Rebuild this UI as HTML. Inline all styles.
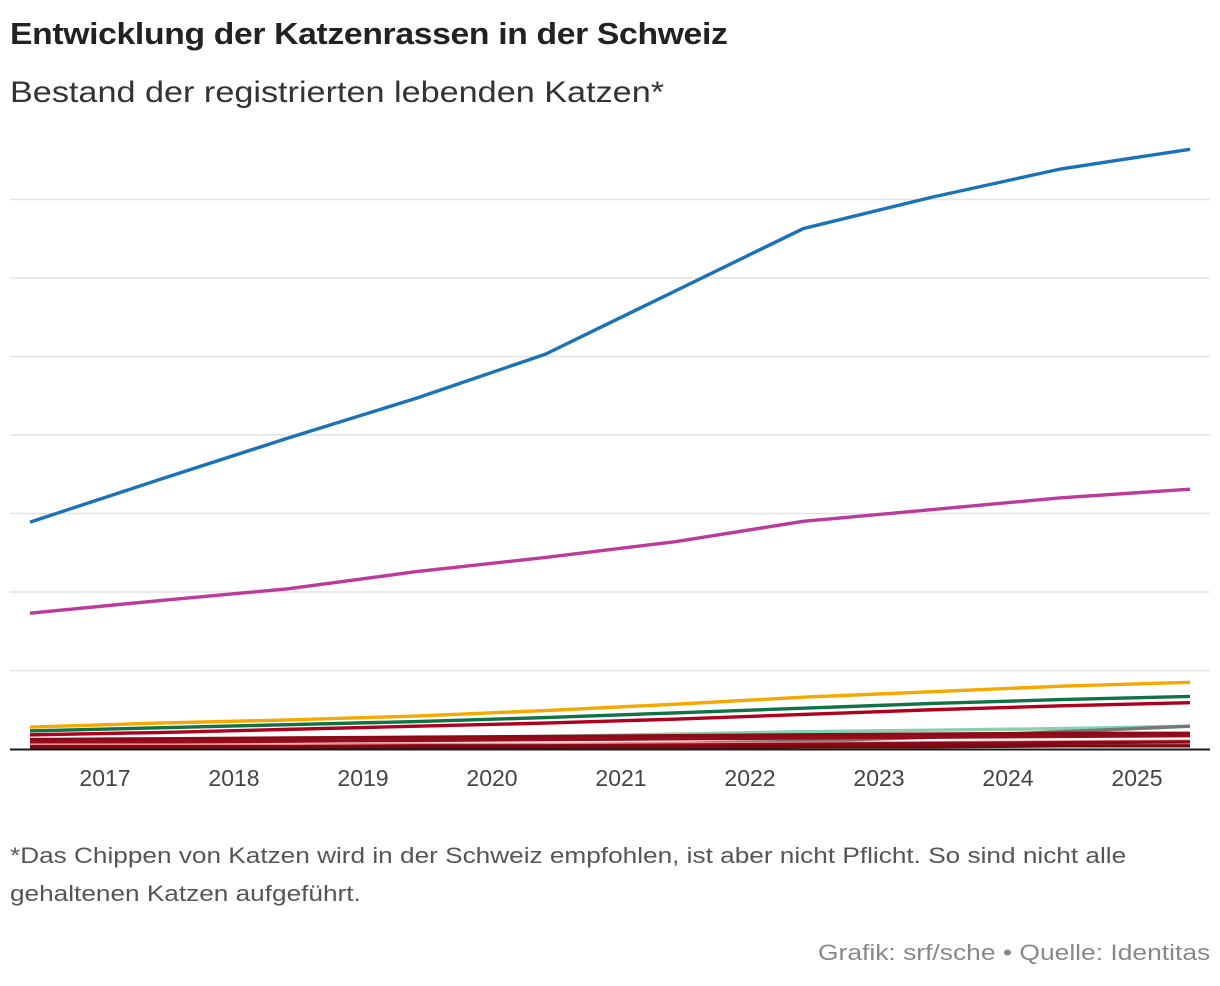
<!DOCTYPE html>
<html><head><meta charset="utf-8"><style>
body{margin:0;width:1220px;height:986px;background:#fff;font-family:"Liberation Sans",sans-serif;color:#222;position:relative;overflow:hidden}
.t{position:absolute;left:10px;white-space:nowrap;transform-origin:left top}
</style></head><body>
<div class="t" style="top:16px;font-size:31px;font-weight:bold;letter-spacing:-0.3px;transform:scaleX(1.086)">Entwicklung der Katzenrassen in der Schweiz</div>
<div class="t" style="top:76px;font-size:30px;color:#333;transform:scaleX(1.14)">Bestand der registrierten lebenden Katzen*</div>
<svg id="chart" width="1220" height="800" style="position:absolute;left:0;top:0"></svg>
<div class="t" style="top:837px;font-size:22px;line-height:38px;color:#555;transform:scaleX(1.19)">*Das Chippen von Katzen wird in der Schweiz empfohlen, ist aber nicht Pflicht. So sind nicht alle<br>gehaltenen Katzen aufgeführt.</div>
<div class="t" style="top:940px;left:818px;font-size:22px;color:#888;transform:scaleX(1.2)">Grafik: srf/sche • Quelle: Identitas</div>
<script>
const years=["2017","2018","2019","2020","2021","2022","2023","2024","2025"];
const yTicks=[0,1,2,3,4,5,6,7];
const sBlue=[2.89,3.43,3.96,4.47,5.03,5.83,6.63,7.03,7.39,7.64];
const sMagenta=[1.73,1.89,2.04,2.26,2.44,2.64,2.90,3.05,3.20,3.31];
const sOrange=[0.28,0.33,0.37,0.42,0.49,0.57,0.66,0.73,0.80,0.85];
const sGreen=[0.23,0.27,0.31,0.35,0.40,0.46,0.52,0.58,0.63,0.67];
const sRed=[0.18,0.21,0.25,0.29,0.33,0.38,0.44,0.50,0.55,0.59];
const sMint=[0.07,0.08,0.10,0.13,0.16,0.19,0.22,0.24,0.26,0.29];
const sGray=[0.01,0.01,0.02,0.03,0.05,0.07,0.10,0.15,0.22,0.29];
const sDark1=[0.12,0.13,0.14,0.15,0.16,0.17,0.18,0.19,0.20,0.20];
const sDark2=[0.08,0.09,0.10,0.11,0.12,0.13,0.14,0.15,0.16,0.17];
const sPink=[0.05,0.05,0.05,0.06,0.06,0.07,0.07,0.08,0.09,0.10];
const sDark3=[0.03,0.03,0.03,0.04,0.04,0.05,0.06,0.07,0.08,0.09];
const sDark4=[0.01,0.01,0.01,0.02,0.02,0.02,0.03,0.03,0.04,0.04];
const series=[[sMint,"#86d1b0"],[sGray,"#777"],[sDark1,"#8b0a17"],[sDark2,"#960c1a"],[sPink,"#f08a8a"],[sDark3,"#8a0915"],[sDark4,"#7a0812"],[sRed,"#b0001e"],[sGreen,"#0f7346"],[sOrange,"#f5a800"],[sMagenta,"#bb3a9e"],[sBlue,"#1a72b8"]];
const svg=document.getElementById('chart');const NS="http://www.w3.org/2000/svg";
const x0=30,x1=1190,y0=749,unit=78.5;
const xs=i=>x0+i*(x1-x0)/9;
const ys=v=>y0-v*unit;
const tickX=i=>105+i*129;
function el(t,a){const e=document.createElementNS(NS,t);for(const k in a)e.setAttribute(k,a[k]);svg.appendChild(e);return e;}
yTicks.forEach(v=>{if(v===0)return;const g=el('line',{x1:10,x2:1210,y1:ys(v),y2:ys(v),stroke:'#e3e3e3','stroke-width':1.5});

});
years.forEach((y,i)=>{const t=el('text',{x:tickX(i),y:786,'text-anchor':'middle','font-size':23,fill:'#444','font-family':'Liberation Sans, sans-serif'});t.textContent=y;

});
series.forEach(([d,c])=>{const p=el('polyline',{points:d.map((v,i)=>xs(i)+','+ys(v)).join(' '),fill:'none',stroke:c,'stroke-width':3.4,'stroke-linejoin':'round'});

});
const b=el('line',{x1:10,x2:1210,y1:y0+0.5,y2:y0+0.5,stroke:'#1a1a1a','stroke-width':2});


</script>
</body></html>
